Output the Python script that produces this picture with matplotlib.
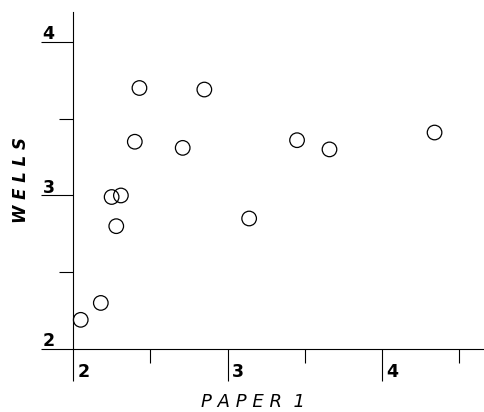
import matplotlib.pyplot as plt
from matplotlib.ticker import FixedLocator

# readings of the scatter, one circle per pair
paper1 = [2.43, 2.85, 2.40, 2.71, 3.45, 3.66, 4.34, 2.25, 2.31, 2.28, 3.14, 2.18, 2.05]
wells = [3.70, 3.69, 3.35, 3.31, 3.36, 3.30, 3.41, 2.99, 3.00, 2.80, 2.85, 2.30, 2.19]

x_major = [2, 3, 4]
x_minor = [2.5, 3.5, 4.5]
y_major = [2, 3, 4]
y_minor = [2.5, 3.5]
x_labels = ["2", "3", "4"]
y_labels = ["2", "3", "4"]


def build_figure():
    fig = plt.figure(figsize=(4.84, 4.12), dpi=100)
    ax = fig.add_axes([73 / 484, 63 / 412, 411 / 484, 337 / 412])

    ax.scatter(paper1, wells, s=110, facecolors="none", edgecolors="black",
               linewidths=0.9, clip_on=False, zorder=3)

    ax.set_xlim(2, 4.66)
    ax.set_ylim(2, 4.195)

    for side in ("top", "right"):
        ax.spines[side].set_visible(False)
    for side in ("left", "bottom"):
        ax.spines[side].set_linewidth(0.8)

    ax.xaxis.set_major_locator(FixedLocator(x_major))
    ax.xaxis.set_minor_locator(FixedLocator(x_minor))
    ax.yaxis.set_major_locator(FixedLocator(y_major))
    ax.yaxis.set_minor_locator(FixedLocator(y_minor))
    ax.tick_params(which="major", direction="out", length=23, width=0.8,
                   labelbottom=False, labelleft=False)
    ax.tick_params(which="minor", direction="out", length=10, width=0.8)

    # tick numbers sit beside the long ticks, as in the printed figure
    for val, text in zip(x_major, x_labels):
        ax.annotate(text, xy=(val, 0), xycoords=("data", "axes fraction"),
                    xytext=(3, -16.5), textcoords="offset points",
                    ha="left", va="center", fontsize=12.5, fontweight="bold")
    for val, text in zip(y_major, y_labels):
        ax.annotate(text, xy=(0, val), xycoords=("axes fraction", "data"),
                    xytext=(-17.5, 2), textcoords="offset points",
                    ha="center", va="baseline", fontsize=12.5, fontweight="bold")

    fig.text(253 / 484, 10 / 412, "P A P E R  1", ha="center", va="center",
             fontsize=13, style="italic")
    fig.text(21 / 484, 232 / 412, "W E L L S", ha="center", va="center",
             rotation=90, fontsize=12, style="italic", fontweight="bold")
    return fig


if __name__ == "__main__":
    fig = build_figure()
    fig.savefig("out.png", dpi=100)
    plt.close(fig)
